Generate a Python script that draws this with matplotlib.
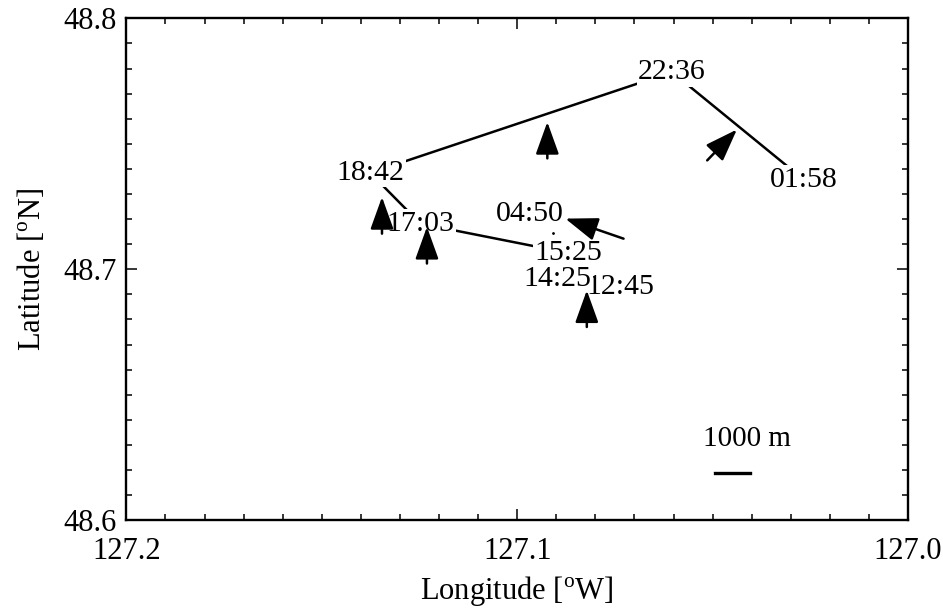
import matplotlib
matplotlib.use("Agg")
import matplotlib.pyplot as plt
from matplotlib.ticker import MultipleLocator

plt.rcParams["font.family"] = ["Liberation Serif", "DejaVu Serif"]
plt.rcParams["mathtext.fontset"] = "custom"
plt.rcParams["mathtext.rm"] = "Liberation Serif"

# Drifter track (longitude in degrees W, latitude in degrees N)
track_times = ["12:45", "14:25", "15:25", "17:03", "18:42", "22:36", "01:58"]
track_lon = [127.0737, 127.0898, 127.0869, 127.1248, 127.1376, 127.0604, 127.0266]
track_lat = [48.6929, 48.6963, 48.7065, 48.7182, 48.7384, 48.7786, 48.7356]

# Last fix, not joined to the track
last_time = "04:50"
last_lon = 127.0967
last_lat = 48.7222
last_mark_lon = 127.0909
last_mark_lat = 48.7145

# Velocity vectors: tail and tip positions
vec_tail_lon = [127.0923, 127.0514, 127.1346, 127.1231, 127.0822, 127.0728]
vec_tail_lat = [48.7442, 48.7434, 48.7142, 48.7023, 48.6770, 48.7122]
vec_tip_lon = [127.0923, 127.0438, 127.1346, 127.1231, 127.0822, 127.0877]
vec_tip_lat = [48.7587, 48.7557, 48.7288, 48.7169, 48.6916, 48.7202]

# Scale bar: 1000 m expressed in degrees
scale_label = "1000 m"
scale_lon0 = 127.0494
scale_lat = 48.6188
scale_len_deg = 1000.0 / 111000.0

fig = plt.figure(figsize=(9.43, 6.12), dpi=100)
ax = fig.add_axes([0.134, 0.150, 0.829, 0.820])

ax.set_xlim(127.2, 127.0)
ax.set_ylim(48.6, 48.8)

# Track line, labels sit on white boxes so the line breaks around them
ax.plot(track_lon, track_lat, color="black", lw=1.8, zorder=1)
for t, lo, la in zip(track_times, track_lon, track_lat):
    ax.text(lo, la, t, fontsize=21.5, ha="center", va="center", zorder=2,
            bbox=dict(boxstyle="square,pad=0.05", fc="white", ec="none"))

ax.plot([last_mark_lon], [last_mark_lat], marker=".", ms=2, color="black", zorder=2)
ax.text(last_lon, last_lat, last_time, fontsize=21.5, ha="center", va="center", zorder=2)

for tl, ta, hl, ha_ in zip(vec_tail_lon, vec_tail_lat, vec_tip_lon, vec_tip_lat):
    ax.annotate("", xy=(hl, ha_), xytext=(tl, ta), zorder=5,
                arrowprops=dict(arrowstyle="-|>,head_length=1.0,head_width=0.36",
                                mutation_scale=20, lw=1.8, color="black",
                                shrinkA=0, shrinkB=0))

ax.plot([scale_lon0, scale_lon0 - scale_len_deg], [scale_lat, scale_lat],
        color="black", lw=2.4)
ax.text(scale_lon0 + 0.0030, scale_lat + 0.0085, scale_label, fontsize=21,
        ha="left", va="bottom")

ax.set_xticks([127.2, 127.1, 127.0])
ax.set_xticklabels(["127.2", "127.1", "127.0"])
ax.set_yticks([48.6, 48.7, 48.8])
ax.set_yticklabels(["48.6", "48.7", "48.8"])
ax.xaxis.set_minor_locator(MultipleLocator(0.01))
ax.yaxis.set_minor_locator(MultipleLocator(0.01))
ax.tick_params(which="both", direction="in", top=True, right=True, width=1.1)
ax.tick_params(which="major", length=8, labelsize=22)
ax.tick_params(which="minor", length=4)
ax.tick_params(axis="x", which="major", pad=12)
ax.tick_params(axis="y", which="major", pad=7)
for s in ax.spines.values():
    s.set_linewidth(1.7)

ax.set_xlabel(r"Longitude [$^{\rm o}$W]", fontsize=22, labelpad=6)
ax.set_ylabel(r"Latitude [$^{\rm o}$N]", fontsize=22, labelpad=12)

fig.savefig("out.png", dpi=100)
